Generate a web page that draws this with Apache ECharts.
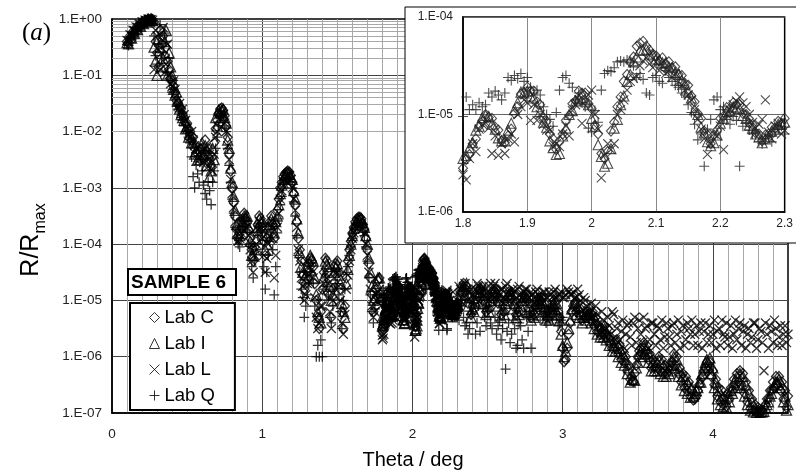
<!DOCTYPE html>
<html><head><meta charset="utf-8">
<script src="https://cdn.jsdelivr.net/npm/echarts@6/dist/echarts.min.js"></script>
<style>html,body{margin:0;padding:0;background:#fff}#c{width:796px;height:472px}</style>
</head><body><div id="c"></div>
<script>
// Theta (deg) sampling of the main panel (first pass)
const theta = [
0.10,0.12,0.14,0.16,0.18,0.20,0.22,0.24,0.26,0.28,
0.30,0.32,0.34,0.36,0.38,0.40,0.42,0.44,0.46,0.48,
0.50,0.52,0.54,0.56,0.58,0.60,0.62,0.64,0.66,0.68,
0.70,0.72,0.74,0.76,0.78,0.80,0.82,0.84,0.86,0.88,
0.90,0.92,0.94,0.96,0.98,1.00,1.02,1.04,1.06,1.08,
1.10,1.12,1.14,1.16,1.18,1.20,1.22,1.24,1.26,1.28,
1.30,1.32,1.34,1.36,1.38,1.40,1.42,1.44,1.46,1.48,
1.50,1.52,1.54,1.56,1.58,1.60,1.62,1.64,1.66,1.68,
1.70,1.72,1.74,1.76,1.78,1.80,1.82,1.84,1.86,1.88,
1.90,1.92,1.94,1.96,1.98,2.00,2.02,2.04,2.06,2.08,
2.10,2.12,2.14,2.16,2.18,2.20,2.22,2.24,2.26,2.28,
2.30,2.32,2.34,2.36,2.38,2.40,2.42,2.44,2.46,2.48,
2.50,2.52,2.54,2.56,2.58,2.60,2.62,2.64,2.66,2.68,
2.70,2.72,2.74,2.76,2.78,2.80,2.82,2.84,2.86,2.88,
2.90,2.92,2.94,2.96,2.98,3.00,3.02,3.04,3.06,3.08,
3.10,3.12,3.14,3.16,3.18,3.20,3.22,3.24,3.26,3.28,
3.30,3.32,3.34,3.36,3.38,3.40,3.42,3.44,3.46,3.48,
3.50,3.52,3.54,3.56,3.58,3.60,3.62,3.64,3.66,3.68,
3.70,3.72,3.74,3.76,3.78,3.80,3.82,3.84,3.86,3.88,
3.90,3.92,3.94,3.96,3.98,4.00,4.02,4.04,4.06,4.08,
4.10,4.12,4.14,4.16,4.18,4.20,4.22,4.24,4.26,4.28,
4.30,4.32,4.34,4.36,4.38,4.40,4.42,4.44,4.46,4.48,
4.50];
// Theta (deg) sampling of the main panel (second, interleaved pass)
const theta2 = [
0.11,0.13,0.15,0.17,0.19,0.21,0.23,0.25,0.27,0.29,
0.31,0.33,0.35,0.37,0.39,0.41,0.43,0.45,0.47,0.49,
0.51,0.53,0.55,0.57,0.59,0.61,0.63,0.65,0.67,0.69,
0.71,0.73,0.75,0.77,0.79,0.81,0.83,0.85,0.87,0.89,
0.91,0.93,0.95,0.97,0.99,1.01,1.03,1.05,1.07,1.09,
1.11,1.13,1.15,1.17,1.19,1.21,1.23,1.25,1.27,1.29,
1.31,1.33,1.35,1.37,1.39,1.41,1.43,1.45,1.47,1.49,
1.51,1.53,1.55,1.57,1.59,1.61,1.63,1.65,1.67,1.69,
1.71,1.73,1.75,1.77,1.79,1.81,1.83,1.85,1.87,1.89,
1.91,1.93,1.95,1.97,1.99,2.01,2.03,2.05,2.07,2.09,
2.11,2.13,2.15,2.17,2.19,2.21,2.23,2.25,2.27,2.29,
2.31,2.33,2.35,2.37,2.39,2.41,2.43,2.45,2.47,2.49,
2.51,2.53,2.55,2.57,2.59,2.61,2.63,2.65,2.67,2.69,
2.71,2.73,2.75,2.77,2.79,2.81,2.83,2.85,2.87,2.89,
2.91,2.93,2.95,2.97,2.99,3.01,3.03,3.05,3.07,3.09,
3.11,3.13,3.15,3.17,3.19,3.21,3.23,3.25,3.27,3.29,
3.31,3.33,3.35,3.37,3.39,3.41,3.43,3.45,3.47,3.49,
3.51,3.53,3.55,3.57,3.59,3.61,3.63,3.65,3.67,3.69,
3.71,3.73,3.75,3.77,3.79,3.81,3.83,3.85,3.87,3.89,
3.91,3.93,3.95,3.97,3.99,4.01,4.03,4.05,4.07,4.09,
4.11,4.13,4.15,4.17,4.19,4.21,4.23,4.25,4.27,4.29,
4.31,4.33,4.35,4.37,4.39,4.41,4.43,4.45,4.47,4.49];

// log10(R/Rmax)
const labC = [
-0.40,-0.30,-0.22,-0.15,-0.10,-0.05,-0.02,0.00,0.00,-0.05,
-0.60,-0.20,-0.30,-0.50,-0.90,-1.10,-1.30,-1.50,-1.60,-1.75,
-1.85,-2.00,-2.10,-2.25,-2.35,-2.30,-2.15,-2.30,-2.60,-2.20,
-1.80,-1.60,-1.62,-1.90,-2.40,-3.00,-3.50,-3.90,-3.60,-3.45,
-3.60,-3.90,-4.30,-3.80,-3.50,-3.70,-4.20,-3.70,-3.50,-3.90,
-3.40,-3.00,-2.80,-2.72,-2.72,-2.90,-3.30,-3.90,-4.30,-4.80,
-4.50,-4.25,-4.40,-5.00,-5.50,-4.80,-4.25,-4.50,-5.30,-4.40,
-4.30,-4.80,-5.50,-4.60,-4.10,-3.80,-3.60,-3.52,-3.55,-3.75,
-4.10,-4.60,-5.20,-4.80,-4.60,-5.50,-5.24,-5.01,-5.25,-5.01,
-4.73,-4.92,-5.27,-5.08,-4.78,-4.96,-5.47,-4.94,-4.48,-4.27,
-4.41,-4.48,-4.61,-4.89,-5.23,-5.06,-4.90,-5.02,-5.21,-5.15,
-5.05,-4.85,-4.70,-4.75,-4.90,-5.10,-5.00,-4.80,-4.75,-4.85,
-5.05,-4.95,-4.80,-4.80,-4.95,-5.10,-5.00,-4.85,-4.85,-5.00,
-5.15,-5.05,-4.90,-4.90,-5.05,-5.20,-5.10,-4.95,-4.95,-5.05,
-5.20,-5.15,-5.00,-5.00,-5.30,-5.85,-6.05,-5.60,-5.20,-5.05,
-5.05,-5.15,-5.25,-5.20,-5.15,-5.20,-5.30,-5.45,-5.50,-5.45,
-5.50,-5.65,-5.75,-5.70,-5.80,-5.90,-6.00,-6.15,-6.35,-6.30,
-6.00,-5.85,-5.75,-5.80,-5.95,-6.05,-6.10,-6.00,-6.05,-6.15,
-6.20,-6.10,-5.95,-6.00,-6.20,-6.30,-6.35,-6.45,-6.60,-6.75,
-6.60,-6.40,-6.25,-6.10,-6.10,-6.25,-6.40,-6.55,-6.60,-6.70,
-6.65,-6.55,-6.40,-6.30,-6.25,-6.30,-6.45,-6.60,-6.75,-6.85,
-6.90,-6.95,-6.90,-6.75,-6.60,-6.45,-6.35,-6.35,-6.45,-6.60,
-6.70];
const labC2 = [
-0.42,-0.31,-0.24,-0.16,-0.12,-0.07,-0.04,-0.02,-0.01,-0.40,
-0.85,-0.45,-0.65,-0.75,-1.05,-1.20,-1.45,-1.55,-1.70,-1.85,
-1.95,-2.15,-2.30,-2.40,-2.50,-2.45,-2.35,-2.55,-2.45,-1.95,
-1.68,-1.58,-1.72,-2.10,-2.70,-3.25,-3.75,-3.75,-3.55,-3.55,
-3.75,-4.10,-4.05,-3.65,-3.55,-3.95,-3.90,-3.60,-3.65,-3.65,
-3.20,-2.90,-2.75,-2.70,-2.78,-3.10,-3.60,-4.10,-4.55,-4.70,
-4.35,-4.30,-4.70,-5.30,-5.20,-4.50,-4.30,-4.90,-4.80,-4.35,
-4.50,-5.20,-5.10,-4.30,-3.95,-3.70,-3.55,-3.52,-3.65,-3.90,
-4.35,-4.90,-5.00,-4.65,-5.00,-5.35,-5.10,-5.15,-5.10,-4.85,
-4.78,-5.10,-5.30,-4.90,-4.80,-5.15,-5.30,-4.70,-4.35,-4.32,
-4.45,-4.52,-4.75,-5.05,-5.20,-4.95,-4.92,-5.12,-5.20,-5.10,
-4.95,-4.75,-4.85,-5.05,-5.25,-5.15,-4.90,-4.80,-5.00,-5.20,
-5.15,-4.90,-4.85,-5.05,-5.25,-5.20,-4.95,-4.90,-5.10,-5.25,
-5.20,-4.95,-4.95,-5.15,-5.30,-5.25,-5.00,-5.00,-5.15,-5.30,
-5.30,-5.10,-5.10,-5.20,-5.55,-6.09,-5.85,-5.40,-5.10,-5.20,
-5.25,-5.35,-5.30,-5.25,-5.35,-5.45,-5.55,-5.60,-5.60,-5.65,
-5.75,-5.85,-5.85,-5.95,-6.05,-6.10,-6.25,-6.40,-6.44,-6.15,
-5.90,-5.95,-5.90,-6.05,-6.20,-6.20,-6.20,-6.25,-6.30,-6.30,
-6.25,-6.10,-6.15,-6.30,-6.45,-6.55,-6.60,-6.70,-6.77,-6.70,
-6.50,-6.35,-6.20,-6.25,-6.35,-6.50,-6.70,-6.80,-6.85,-6.88,
-6.75,-6.60,-6.50,-6.45,-6.50,-6.65,-6.80,-6.92,-6.95,-6.98,
-6.98,-6.96,-6.85,-6.75,-6.60,-6.55,-6.50,-6.60,-6.75,-6.90];
const labI = [
-0.42,-0.33,-0.24,-0.17,-0.11,-0.06,-0.03,-0.01,0.00,-0.50,
-1.00,-0.50,-0.70,-0.20,-0.60,-1.00,-1.35,-1.45,-1.70,-1.80,
-1.90,-2.05,-2.20,-2.35,-2.45,-2.20,-2.25,-2.40,-2.70,-2.50,
-1.90,-1.65,-1.60,-1.85,-2.30,-2.90,-3.40,-3.80,-3.70,-3.50,
-3.50,-3.95,-4.20,-3.90,-3.55,-3.60,-4.10,-3.80,-3.55,-3.80,
-3.50,-3.10,-2.85,-2.75,-2.75,-2.85,-3.20,-3.80,-4.40,-4.60,
-4.40,-4.20,-4.30,-4.90,-5.30,-4.90,-4.30,-4.40,-5.00,-4.50,
-4.35,-4.70,-5.20,-4.70,-4.20,-3.85,-3.65,-3.55,-3.55,-3.70,
-4.00,-4.50,-5.00,-4.70,-4.60,-5.30,-5.18,-5.03,-5.28,-4.96,
-4.77,-4.98,-5.35,-5.12,-4.82,-5.02,-5.53,-5.04,-4.58,-4.33,
-4.42,-4.50,-4.64,-4.93,-5.27,-5.10,-4.93,-5.05,-5.24,-5.18,
-5.08,-4.90,-4.75,-4.70,-4.95,-5.15,-5.05,-4.85,-4.80,-4.90,
-5.10,-5.00,-4.85,-4.85,-5.00,-5.15,-5.05,-4.90,-4.90,-5.05,
-5.20,-5.10,-4.95,-4.95,-5.10,-5.25,-5.15,-5.00,-5.00,-5.10,
-5.25,-5.20,-5.05,-5.05,-5.35,-5.80,-5.90,-5.50,-5.15,-5.05,
-5.10,-5.20,-5.30,-5.25,-5.20,-5.25,-5.35,-5.50,-5.55,-5.50,
-5.60,-5.70,-5.80,-5.75,-5.85,-5.95,-6.05,-6.20,-6.40,-6.42,
-6.10,-5.90,-5.80,-5.85,-6.00,-6.10,-6.15,-6.05,-6.10,-6.20,
-6.25,-6.15,-6.00,-6.05,-6.25,-6.35,-6.40,-6.50,-6.55,-6.65,
-6.55,-6.45,-6.20,-6.05,-6.02,-6.20,-6.45,-6.60,-6.70,-6.75,
-6.70,-6.60,-6.45,-6.35,-6.30,-6.35,-6.50,-6.65,-6.80,-6.90,
-6.95,-6.98,-6.97,-6.85,-6.70,-6.55,-6.45,-6.40,-6.50,-6.70,
-6.85];
const labI2 = [
-0.44,-0.34,-0.26,-0.19,-0.13,-0.08,-0.05,-0.02,-0.03,-0.75,
-0.35,-0.85,-0.40,-1.00,-0.85,-1.25,-1.30,-1.60,-1.75,-1.95,
-2.10,-2.20,-2.40,-2.50,-2.30,-2.40,-2.60,-2.80,-2.30,-1.75,
-1.62,-1.63,-1.75,-2.15,-2.65,-3.15,-3.65,-3.85,-3.60,-3.50,
-3.70,-4.20,-4.10,-3.70,-3.60,-3.85,-4.00,-3.65,-3.60,-3.60,
-3.30,-2.95,-2.78,-2.73,-2.80,-3.05,-3.55,-4.15,-4.50,-4.55,
-4.30,-4.25,-4.60,-5.20,-5.40,-4.60,-4.35,-4.75,-4.90,-4.40,
-4.55,-5.05,-5.30,-4.45,-4.00,-3.72,-3.58,-3.54,-3.62,-3.85,
-4.25,-4.75,-4.95,-4.60,-4.95,-5.40,-5.05,-5.10,-5.20,-4.80,
-4.80,-5.15,-5.40,-4.95,-4.82,-5.20,-5.45,-4.80,-4.40,-4.34,
-4.46,-4.55,-4.80,-5.10,-5.30,-5.00,-4.95,-5.15,-5.25,-5.12,
-5.00,-4.80,-4.90,-5.10,-5.30,-5.20,-4.95,-4.85,-5.05,-5.25,
-5.20,-4.95,-4.90,-5.10,-5.30,-5.25,-5.00,-4.95,-5.15,-5.30,
-5.25,-5.00,-5.00,-5.20,-5.35,-5.30,-5.05,-5.05,-5.20,-5.35,
-5.35,-5.15,-5.15,-5.25,-5.60,-6.00,-5.75,-5.35,-5.15,-5.25,
-5.30,-5.40,-5.35,-5.30,-5.40,-5.50,-5.60,-5.65,-5.65,-5.70,
-5.80,-5.90,-5.90,-6.00,-6.10,-6.15,-6.30,-6.45,-6.40,-6.20,
-5.95,-6.00,-5.95,-6.10,-6.25,-6.25,-6.25,-6.30,-6.35,-6.35,
-6.30,-6.15,-6.20,-6.35,-6.50,-6.60,-6.65,-6.72,-6.70,-6.60,
-6.45,-6.30,-6.10,-6.15,-6.30,-6.55,-6.75,-6.85,-6.88,-6.90,
-6.80,-6.65,-6.55,-6.50,-6.55,-6.70,-6.85,-6.95,-6.98,-6.99,
-6.99,-6.98,-6.90,-6.80,-6.65,-6.50,-6.45,-6.55,-6.80,-6.95];
const labL = [
-0.38,-0.28,-0.20,-0.14,-0.09,-0.05,-0.02,0.00,-0.01,-0.90,
-0.30,-0.90,-0.15,-0.80,-1.00,-1.20,-1.25,-1.55,-1.65,-1.70,
-1.95,-2.10,-2.15,-2.30,-2.50,-2.40,-2.30,-2.50,-2.55,-2.40,
-2.00,-1.70,-1.70,-2.00,-2.50,-3.10,-3.60,-3.95,-3.80,-3.60,
-3.70,-4.10,-4.50,-4.00,-3.60,-3.90,-4.50,-4.00,-3.70,-4.60,
-3.70,-3.20,-2.90,-2.80,-2.78,-3.00,-3.40,-4.10,-4.60,-5.00,
-4.70,-4.40,-4.60,-5.30,-5.40,-5.10,-4.50,-4.70,-5.50,-4.60,
-4.50,-5.00,-5.60,-4.80,-4.30,-3.90,-3.70,-3.60,-3.65,-3.80,
-4.20,-4.80,-5.30,-5.00,-4.80,-5.70,-5.38,-5.14,-5.30,-5.28,
-4.88,-5.00,-5.33,-5.12,-4.85,-4.75,-5.42,-5.00,-4.66,-4.45,
-4.46,-4.55,-4.70,-4.95,-5.41,-5.12,-4.90,-4.92,-5.10,-5.25,
-5.16,-4.80,-4.75,-4.80,-4.85,-4.90,-4.80,-4.75,-4.80,-4.90,
-4.85,-4.70,-4.75,-4.85,-4.90,-4.80,-4.75,-4.85,-4.90,-4.85,
-4.80,-4.90,-4.85,-4.80,-4.95,-4.90,-4.85,-4.90,-4.95,-4.85,
-4.95,-4.90,-4.85,-4.95,-4.90,-4.95,-4.90,-4.85,-4.90,-4.95,
-4.80,-5.00,-4.95,-5.10,-5.20,-5.30,-5.10,-5.40,-5.20,-5.50,
-5.30,-5.60,-5.25,-5.50,-5.70,-5.35,-5.60,-5.40,-5.80,-5.30,
-5.50,-5.60,-5.30,-5.45,-5.70,-5.40,-5.80,-5.50,-5.35,-5.65,
-5.50,-5.80,-5.40,-5.60,-5.85,-5.45,-5.70,-5.50,-5.35,-5.60,
-5.80,-5.40,-5.55,-5.75,-5.45,-5.60,-5.85,-5.50,-5.35,-5.65,
-5.80,-5.45,-5.60,-5.70,-5.40,-5.55,-5.85,-5.50,-5.65,-5.40,
-5.70,-5.55,-6.25,-5.60,-5.45,-5.75,-5.50,-5.65,-5.80,-5.45,
-5.60];
const labL2 = [
-0.39,-0.30,-0.21,-0.15,-0.10,-0.06,-0.03,-0.01,-0.02,-0.20,
-0.55,-0.30,-0.95,-0.45,-1.15,-1.10,-1.45,-1.50,-1.60,-1.80,
-2.05,-2.00,-2.25,-2.40,-2.35,-2.55,-2.65,-2.40,-2.70,-2.10,
-1.78,-1.68,-1.85,-2.25,-2.85,-3.35,-3.80,-3.90,-3.65,-3.70,
-3.85,-4.30,-4.20,-3.75,-3.70,-4.20,-4.25,-3.85,-3.90,-4.20,
-3.45,-3.05,-2.85,-2.78,-2.85,-3.20,-3.70,-4.30,-4.75,-4.90,
-4.55,-4.45,-4.95,-5.50,-5.10,-4.70,-4.60,-5.20,-5.00,-4.50,
-4.75,-5.40,-5.25,-4.55,-4.10,-3.80,-3.65,-3.60,-3.72,-4.00,
-4.50,-5.10,-5.20,-4.85,-5.10,-5.60,-5.30,-5.20,-5.35,-5.00,
-4.95,-5.10,-5.35,-5.20,-4.95,-5.00,-5.30,-4.85,-4.55,-4.48,
-4.52,-4.60,-4.85,-5.20,-5.35,-5.00,-4.85,-5.00,-5.15,-5.20,
-4.75,-4.95,-4.70,-5.00,-4.80,-4.95,-4.70,-4.90,-4.75,-4.95,
-4.75,-4.90,-4.70,-4.95,-4.80,-4.95,-4.70,-4.90,-4.80,-4.95,
-4.75,-4.95,-4.80,-4.95,-4.85,-4.95,-4.80,-4.95,-4.85,-4.95,
-4.85,-4.95,-4.80,-4.90,-4.85,-4.95,-4.80,-4.90,-4.85,-4.95,
-4.90,-5.15,-5.00,-5.30,-5.05,-5.40,-5.25,-5.60,-5.35,-5.65,
-5.45,-5.20,-5.70,-5.40,-5.55,-5.85,-5.45,-5.65,-5.40,-5.75,
-5.35,-5.75,-5.50,-5.85,-5.40,-5.60,-5.45,-5.70,-5.85,-5.40,
-5.65,-5.45,-5.75,-5.35,-5.55,-5.80,-5.40,-5.60,-5.80,-5.45,
-5.55,-5.85,-5.40,-5.60,-5.75,-5.35,-5.55,-5.80,-5.60,-5.40,
-5.65,-5.85,-5.35,-5.50,-5.80,-5.45,-5.60,-5.75,-5.40,-5.85,
-5.50,-5.75,-5.40,-5.85,-5.55,-5.35,-5.80,-5.45,-5.60,-5.75];
// Lab Q data stop at 3.00 deg
const labQ = [
-0.45,-0.35,-0.26,-0.18,-0.12,-0.07,-0.03,-0.01,-0.02,-0.30,
-0.80,-0.10,-0.60,-0.40,-0.70,-1.30,-1.40,-1.60,-1.75,-1.90,
-2.00,-2.20,-2.80,-2.60,-2.90,-2.70,-3.10,-2.90,-3.30,-2.70,
-2.10,-1.75,-1.80,-2.00,-2.60,-3.20,-3.70,-4.00,-3.90,-3.55,
-3.80,-4.00,-4.60,-4.10,-3.70,-3.80,-4.80,-4.20,-3.80,-4.90,
-3.80,-3.30,-3.00,-2.85,-2.85,-3.00,-3.50,-4.20,-4.80,-5.30,
-4.90,-4.50,-4.70,-6.00,-6.00,-6.00,-4.60,-4.90,-5.40,-4.80,
-4.70,-5.20,-5.00,-4.50,-4.20,-3.90,-3.70,-3.62,-3.65,-3.85,
-4.30,-4.90,-5.40,-4.90,-4.90,-5.00,-4.95,-4.78,-4.85,-4.60,
-4.62,-4.80,-5.12,-4.60,-4.78,-5.18,-4.58,-4.46,-4.47,-4.64,
-4.60,-4.62,-4.78,-5.10,-5.15,-4.95,-5.02,-5.08,-5.28,-5.28,
-5.20,-5.00,-5.30,-5.40,-5.50,-5.20,-5.60,-5.10,-5.00,-5.30,
-5.20,-5.40,-5.00,-5.60,-5.35,-5.50,-6.22,-5.40,-5.60,-5.50,
-5.80,-5.45,-5.85,-5.30,-5.20,-5.00,-5.10,-5.05,-5.20,-5.15,
-5.30,-5.10,-5.20,-5.25,-5.40,-5.30];
const labQ2 = [
-0.47,-0.37,-0.28,-0.20,-0.14,-0.09,-0.05,-0.03,-0.04,-0.65,
-0.45,-0.70,-0.25,-0.95,-1.10,-1.25,-1.55,-1.65,-1.80,-2.00,
-2.10,-2.45,-3.00,-2.75,-2.50,-2.95,-3.20,-3.05,-2.90,-2.30,
-1.90,-1.72,-1.90,-2.30,-2.90,-3.45,-3.90,-4.05,-3.75,-3.70,
-4.00,-4.40,-4.30,-3.85,-3.75,-4.40,-4.50,-3.95,-4.10,-4.40,
-3.55,-3.15,-2.90,-2.82,-2.90,-3.25,-3.85,-4.50,-4.95,-5.10,
-4.70,-4.55,-5.10,-5.80,-5.70,-4.80,-4.75,-5.30,-5.10,-4.70,
-4.90,-5.50,-4.80,-4.40,-4.05,-3.80,-3.65,-3.62,-3.75,-4.05,
-4.60,-5.20,-5.15,-4.90,-4.95,-4.90,-4.90,-4.80,-4.62,-4.58,
-4.72,-4.90,-4.80,-4.68,-4.90,-4.85,-4.55,-4.45,-4.55,-4.80,
-4.66,-4.70,-4.90,-5.20,-4.85,-5.10,-5.50,-5.25,-5.25,-5.15,
-5.35,-5.10,-5.45,-5.60,-5.25,-5.05,-5.40,-5.55,-5.15,-5.45,
-5.10,-5.50,-5.30,-5.45,-5.70,-5.25,-5.55,-5.75,-5.35,-5.85,
-5.40,-5.70,-5.25,-5.55,-5.85,-5.30,-5.15,-5.35,-5.25,-5.40,
-5.20,-5.35,-5.15,-5.45,-5.35];

// Inset (zoom 1.8 - 2.3 deg)
const insetTheta = [
1.800,1.805,1.810,1.815,1.820,1.825,1.830,1.835,1.840,1.845,
1.850,1.855,1.860,1.865,1.870,1.875,1.880,1.885,1.890,1.895,
1.900,1.905,1.910,1.915,1.920,1.925,1.930,1.935,1.940,1.945,
1.950,1.955,1.960,1.965,1.970,1.975,1.980,1.985,1.990,1.995,
2.000,2.005,2.010,2.015,2.020,2.025,2.030,2.035,2.040,2.045,
2.050,2.055,2.060,2.065,2.070,2.075,2.080,2.085,2.090,2.095,
2.100,2.105,2.110,2.115,2.120,2.125,2.130,2.135,2.140,2.145,
2.150,2.155,2.160,2.165,2.170,2.175,2.180,2.185,2.190,2.195,
2.200,2.205,2.210,2.215,2.220,2.225,2.230,2.235,2.240,2.245,
2.250,2.255,2.260,2.265,2.270,2.275,2.280,2.285,2.290,2.295,
2.300];
const insetC = [
-5.55,-5.46,-5.41,-5.30,-5.25,-5.12,-5.07,-5.00,-5.03,-5.04,
-5.13,-5.16,-5.27,-5.29,-5.22,-5.15,-4.99,-4.92,-4.79,-4.77,
-4.72,-4.76,-4.76,-4.87,-4.90,-5.03,-5.07,-5.20,-5.25,-5.36,
-5.27,-5.20,-5.06,-5.01,-4.89,-4.86,-4.76,-4.78,-4.78,-4.89,
-4.94,-5.11,-5.20,-5.40,-5.45,-5.38,-5.17,-5.08,-4.92,-4.82,
-4.66,-4.59,-4.46,-4.41,-4.30,-4.27,-4.25,-4.30,-4.34,-4.38,
-4.40,-4.45,-4.42,-4.48,-4.46,-4.52,-4.51,-4.59,-4.60,-4.68,
-4.70,-4.81,-4.87,-4.99,-5.04,-5.17,-5.21,-5.30,-5.21,-5.16,
-5.04,-5.02,-4.93,-4.94,-4.88,-4.90,-4.90,-4.99,-5.00,-5.09,
-5.10,-5.19,-5.20,-5.27,-5.21,-5.20,-5.13,-5.14,-5.07,-5.09,
-5.04];
const insetI = [
-5.45,-5.42,-5.34,-5.29,-5.16,-5.12,-5.03,-5.01,-5.02,-5.10,
-5.15,-5.24,-5.27,-5.27,-5.16,-5.09,-4.95,-4.88,-4.77,-4.78,
-4.76,-4.81,-4.83,-4.92,-4.97,-5.08,-5.13,-5.27,-5.34,-5.41,
-5.40,-5.22,-5.14,-5.00,-4.96,-4.86,-4.84,-4.79,-4.85,-4.90,
-5.04,-5.12,-5.31,-5.43,-5.53,-5.50,-5.35,-5.14,-5.05,-4.90,
-4.81,-4.66,-4.59,-4.46,-4.41,-4.34,-4.34,-4.33,-4.38,-4.39,
-4.43,-4.44,-4.47,-4.47,-4.51,-4.52,-4.57,-4.59,-4.65,-4.69,
-4.77,-4.83,-4.95,-5.00,-5.13,-5.19,-5.28,-5.32,-5.29,-5.21,
-5.09,-5.04,-4.97,-4.96,-4.92,-4.93,-4.94,-5.01,-5.04,-5.11,
-5.14,-5.20,-5.23,-5.29,-5.25,-5.23,-5.17,-5.15,-5.10,-5.10,
-5.08];
const insetL = [
-5.62,-5.67,-5.45,-5.30,-5.38,-5.15,-5.10,-5.08,-5.14,-5.40,
-5.22,-5.42,-5.30,-5.40,-5.25,-5.20,-5.28,-5.00,-4.92,-4.85,
-4.88,-5.06,-4.90,-5.06,-5.00,-5.10,-5.16,-5.16,-5.33,-5.30,
-5.33,-5.20,-5.12,-5.22,-4.96,-4.90,-4.85,-5.09,-4.86,-4.80,
-4.75,-5.00,-5.15,-5.65,-5.42,-5.30,-5.36,-5.30,-5.00,-4.95,
-4.85,-4.75,-4.66,-4.63,-4.61,-4.50,-4.45,-4.42,-4.48,-4.52,
-4.46,-4.55,-4.50,-4.58,-4.55,-4.62,-4.58,-4.66,-4.70,-4.75,
-4.80,-4.85,-4.95,-5.05,-5.15,-5.25,-5.41,-5.30,-5.20,-5.22,
-5.12,-5.36,-5.00,-4.95,-4.90,-4.86,-4.82,-4.88,-4.92,-5.00,
-5.08,-5.14,-5.10,-5.05,-4.85,-5.18,-5.25,-5.12,-5.09,-5.20,
-5.16];
const insetQ = [
-5.02,-4.82,-4.95,-4.90,-4.95,-4.88,-4.92,-4.90,-4.78,-4.82,
-4.76,-4.80,-4.85,-4.78,-4.62,-4.65,-4.60,-4.63,-4.58,-4.66,
-4.62,-4.72,-4.78,-4.75,-4.80,-4.92,-5.00,-5.05,-5.12,-4.98,
-4.75,-4.62,-4.60,-4.68,-4.72,-4.85,-4.78,-4.88,-4.92,-5.14,
-5.18,-4.96,-5.08,-4.75,-4.58,-4.55,-4.56,-4.52,-4.46,-4.45,
-4.46,-4.44,-4.47,-4.50,-4.62,-4.58,-4.64,-4.78,-4.80,-4.62,
-4.60,-4.66,-4.68,-4.55,-4.62,-4.66,-4.70,-4.72,-4.78,-4.80,
-4.90,-4.98,-5.10,-5.26,-5.20,-5.53,-5.15,-5.05,-4.85,-4.82,
-4.95,-4.92,-5.05,-5.10,-5.02,-5.06,-5.53,-5.12,-5.08,-5.16,
-5.20,-5.18,-5.28,-5.30,-5.25,-5.22,-5.28,-5.18,-5.15,-5.12,
-5.20];

const labNames = ['Lab C','Lab I','Lab L','Lab Q'];
const mainXLabels = ['0','1','2','3','4'];
const mainYLabels = ['1.E-07','1.E-06','1.E-05','1.E-04','1.E-03','1.E-02','1.E-01','1.E+00'];
const insetXLabels = ['1.8','1.9','2','2.1','2.2','2.3'];
const insetYLabels = ['1.E-06','1.E-05','1.E-04'];
const minorMultipliers = [2,3,4,5,6,7,8,9];
const mainDecades = [-7,-6,-5,-4,-3,-2,-1];
const insetDecades = [-6,-5];

const FONT = '"Liberation Sans", Arial, sans-serif';
const symbols = ['diamond','triangle','path://M0,0L10,10M10,0L0,10','path://M5,0L5,10M0,5L10,5'];
const mainSizes = [[9,10],10,9,10];
const insetSizes = [[9,10],10,9,10];

function points(xs, logs){ const out=[]; for(let i=0;i<logs.length;i++) out.push([xs[i], Math.pow(10, logs[i])]); return out; }
function minorLines(decs){ const d=[]; decs.forEach(e=>minorMultipliers.forEach(m=>d.push({yAxis:+(m*Math.pow(10,e)).toPrecision(2)}))); return d; }

const mainSets = [[labC,labC2,insetC],[labI,labI2,insetI],[labL,labL2,insetL],[labQ,labQ2,insetQ]];
const insetSets = [insetC, insetI, insetL, insetQ];
const series = [];
labNames.forEach((name,k)=>{
  const sets = mainSets[k];
  const s = {
    name, type:'scatter', xAxisIndex:0, yAxisIndex:0,
    data: points(theta, sets[0]).concat(points(theta2, sets[1]), points(insetTheta, sets[2])),
    symbol: symbols[k], symbolSize: mainSizes[k],
    itemStyle:{color:'rgba(0,0,0,0)', borderColor:'#000', borderWidth:1.3},
    emphasis:{disabled:true}, silent:true, z:3
  };
  if (k===0) s.markLine = {silent:true, symbol:['none','none'], label:{show:false}, z:1, animation:false,
      lineStyle:{color:'#a8a8a8', width:1, type:'solid'}, emphasis:{disabled:true}, data:minorLines(mainDecades)};
  series.push(s);
});
labNames.forEach((name,k)=>{
  const s = {
    name, type:'scatter', xAxisIndex:1, yAxisIndex:1,
    data: points(insetTheta, insetSets[k]),
    symbol: symbols[k], symbolSize: insetSizes[k],
    itemStyle:{color:'rgba(0,0,0,0)', borderColor:'#222', borderWidth:1.1},
    emphasis:{disabled:true}, silent:true, z:13
  };
  if (k===0) s.markLine = {silent:true, symbol:['none','none'], label:{show:false}, z:12, animation:false,
      lineStyle:{color:'#a8a8a8', width:1, type:'solid'}, emphasis:{disabled:true}, data:minorLines(insetDecades)};
  series.push(s);
});

const g = '#a8a8a8';
const option = {
  backgroundColor:'#fff',
  animation:false,
  title:{
    text:'{n|SAMPLE }{b|6}', left:128, top:269, z:20,
    borderColor:'#000', borderWidth:2, backgroundColor:'#fff', padding:[4,10,3,3],
    textStyle:{rich:{n:{fontSize:19, color:'#000', fontFamily:FONT}, b:{fontSize:19, fontWeight:'bold', color:'#000', fontFamily:FONT}}}
  },
  legend:{
    data:labNames, orient:'vertical', left:130, top:303, z:20,
    padding:[5,20,5,19], itemGap:7, itemWidth:10, itemHeight:10,
    borderColor:'#000', borderWidth:2, backgroundColor:'#fff',
    itemStyle:{borderWidth:1},
    textStyle:{fontSize:18.5, color:'#000', fontFamily:FONT},
    selectedMode:false
  },
  grid:[
    {left:112, top:19, width:676, height:394, show:true, borderColor:'#000', borderWidth:1.5, backgroundColor:'rgba(0,0,0,0)', containLabel:false},
    {left:463, top:17, width:325, height:195, show:true, borderColor:'#000', borderWidth:1.5, backgroundColor:'#fff', z:11, containLabel:false}
  ],
  xAxis:[
    {type:'value', gridIndex:0, min:0, max:4.5, interval:0.1,
     axisLine:{show:true, lineStyle:{color:'#000', width:1.5}}, axisTick:{show:false},
     axisLabel:{margin:14, fontSize:13.5, color:'#222', fontFamily:FONT,
       formatter:v=>{const r=Math.round(v); return Math.abs(v-r)<1e-6 ? (mainXLabels[r]||'') : '';}},
     splitLine:{show:true, showMinLine:false, showMaxLine:false,
       lineStyle:{color:[g,g,g,g,g,g,g,g,g,'#444'], width:1}}},
    {type:'value', gridIndex:1, min:1.8, max:2.3, interval:0.1, z:12,
     axisLine:{show:true, lineStyle:{color:'#000', width:1.5}}, axisTick:{show:false},
     axisLabel:{margin:6, fontSize:12, color:'#222', fontFamily:FONT,
       formatter:v=>{const i=Math.round((v-1.8)*10); return Math.abs(v-(1.8+i*0.1))<1e-6 ? (insetXLabels[i]||'') : '';}},
     splitLine:{show:true, showMinLine:false, showMaxLine:false, lineStyle:{color:'#888', width:1}}}
  ],
  yAxis:[
    {type:'log', logBase:10, gridIndex:0, min:1e-7, max:1,
     axisLine:{show:true, lineStyle:{color:'#000', width:1.5}}, axisTick:{show:false},
     axisLabel:{margin:10, fontSize:13.5, color:'#222', fontFamily:FONT,
       formatter:v=>mainYLabels[Math.round(Math.log10(v))+7]||''},
     splitLine:{show:true, showMinLine:false, showMaxLine:false, lineStyle:{color:'#444', width:1}}},
    {type:'log', logBase:10, gridIndex:1, min:1e-6, max:1e-4, z:12,
     axisLine:{show:true, lineStyle:{color:'#000', width:1.5}}, axisTick:{show:false},
     axisLabel:{margin:10, fontSize:12, color:'#222', fontFamily:FONT,
       formatter:v=>insetYLabels[Math.round(Math.log10(v))+6]||''},
     splitLine:{show:true, showMinLine:false, showMaxLine:false, lineStyle:{color:'#666', width:1}}}
  ],
  graphic:{elements:[
    {type:'rect', z:10, silent:true, shape:{x:405, y:7, width:400, height:236}, style:{fill:'#fff', stroke:'#000', lineWidth:1}},
    {type:'text', z:20, x:22, y:33, silent:true, style:{text:'{p|(}{i|a}{p|)}', verticalAlign:'middle', align:'left',
      rich:{p:{fontFamily:'"Liberation Serif", "Times New Roman", serif', fontSize:25, fill:'#000'},
            i:{fontFamily:'"Liberation Serif", "Times New Roman", serif', fontSize:25, fontStyle:'italic', fill:'#000'}}}},
    {type:'text', z:20, x:413, y:460, silent:true, style:{text:'Theta / deg', fontFamily:FONT, fontSize:20, fill:'#000', align:'center', verticalAlign:'middle'}},
    {type:'text', z:20, x:34, y:240, rotation:Math.PI/2, silent:true, style:{text:'{a|R/R}{b|max}', align:'center', verticalAlign:'middle',
      rich:{a:{fontFamily:FONT, fontSize:25, fill:'#000', verticalAlign:'bottom', padding:[0,0,5,0]},
            b:{fontFamily:FONT, fontSize:16, fill:'#000', verticalAlign:'bottom'}}}}
  ]},
  series
};
const chart = echarts.init(document.getElementById('c'), null, {renderer:'canvas'});
chart.setOption(option);
</script>
</body></html>
